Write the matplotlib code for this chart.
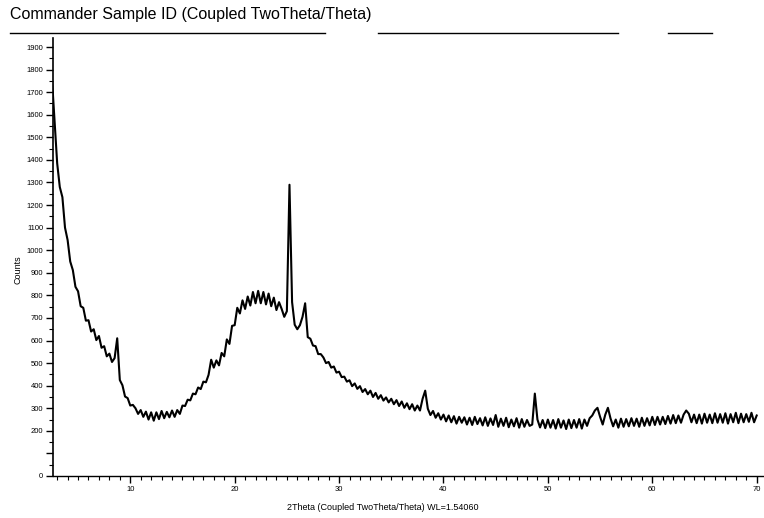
import numpy as np
import matplotlib
matplotlib.use("Agg")
import matplotlib.pyplot as plt
from matplotlib.lines import Line2D

plt.rcParams['font.family'] = ['Liberation Sans', 'DejaVu Sans']

# scan: 2.5 .. 70.0 deg 2theta, step 0.25 deg
twotheta_start = 2.5
twotheta_stop = 70.0
counts = [
    1760, 1575, 1385, 1280, 1235, 1100, 1045, 950,
    912, 838, 818, 752, 745, 688, 690, 640,
    650, 602, 620, 568, 575, 530, 542, 505,
    522, 610, 425, 402, 352, 345, 312, 315,
    300, 275, 292, 262, 285, 250, 282, 245,
    282, 252, 288, 256, 284, 260, 290, 262,
    292, 275, 312, 310, 338, 335, 365, 362,
    392, 385, 418, 415, 448, 515, 480, 512,
    490, 545, 530, 605, 585, 665, 668, 745,
    720, 778, 740, 795, 755, 815, 765, 820,
    765, 815, 760, 808, 752, 790, 735, 770,
    740, 705, 730, 1290, 770, 670, 650, 668,
    705, 765, 615, 608, 578, 575, 540, 540,
    525, 500, 505, 480, 485, 458, 462, 438,
    440, 418, 424, 398, 410, 386, 398, 372,
    385, 362, 378, 350, 368, 342, 358, 334,
    348, 326, 342, 318, 336, 310, 330, 302,
    322, 296, 318, 290, 312, 290, 342, 378,
    298, 270, 288, 258, 278, 250, 272, 242,
    268, 238, 265, 232, 262, 236, 260, 228,
    258, 226, 262, 230, 256, 224, 260, 222,
    255, 226, 270, 218, 254, 222, 258, 216,
    250, 220, 256, 214, 252, 218, 248, 222,
    228, 365, 250, 215, 248, 212, 250, 214,
    248, 210, 252, 214, 246, 208, 250, 212,
    248, 214, 252, 210, 250, 222, 256, 268,
    290, 302, 262, 228, 272, 302, 255, 220,
    250, 214, 254, 218, 252, 220, 256, 222,
    254, 218, 258, 222, 256, 224, 262, 226,
    262, 228, 262, 230, 266, 232, 270, 234,
    268, 236, 272, 290, 276, 238, 272, 234,
    272, 232, 276, 236, 272, 234, 278, 236,
    274, 236, 278, 232, 274, 238, 280, 234,
    276, 238, 274, 240, 280, 238, 268,
]
twotheta = np.linspace(twotheta_start, twotheta_stop, len(counts))

y_ticks = np.arange(0, 2000, 100)
y_ticklabels = [str(v) if v != 100 else "" for v in y_ticks]
x_ticks = [10, 20, 30, 40, 50, 60, 70]

fig = plt.figure(figsize=(7.64, 5.18), dpi=100)
ax = fig.add_axes([53/764, 1-476/518, 711/764, 438/518])

ax.plot(twotheta, counts, color="black", lw=1.5)

ax.set_xlim(2.6, 70.7)
ax.set_ylim(0, 1940)

ax.spines['top'].set_visible(False)
ax.spines['right'].set_visible(False)
ax.spines['left'].set_linewidth(1.2)
ax.spines['bottom'].set_linewidth(1.0)

ax.set_yticks(y_ticks)
ax.set_yticklabels(y_ticklabels)
ax.set_yticks(np.arange(50, 1950, 100), minor=True)
ax.set_xticks(x_ticks)
ax.set_xticks(np.arange(3, 71, 1), minor=True)
ax.tick_params(axis='both', which='major', labelsize=5.5, length=5, width=1.0,
               direction='out', pad=2)
ax.tick_params(axis='both', which='minor', length=3, width=0.8, direction='out')

fig.text(10/764, 1-15/518, "Commander Sample ID (Coupled TwoTheta/Theta)",
         fontsize=11.5, ha='left', va='center')
for x0, x1 in [(10, 325), (378, 618), (668, 712)]:
    fig.add_artist(Line2D([x0/764, x1/764], [1-33/518, 1-33/518],
                          color="black", lw=1.0, transform=fig.transFigure))

fig.text(18/764, 1-270/518, "Counts", fontsize=6.5, rotation=90,
         ha='center', va='center')
fig.text(383/764, 1-508/518, "2Theta (Coupled TwoTheta/Theta) WL=1.54060",
         fontsize=6.5, ha='center', va='center')

fig.savefig("out.png", dpi=100)
